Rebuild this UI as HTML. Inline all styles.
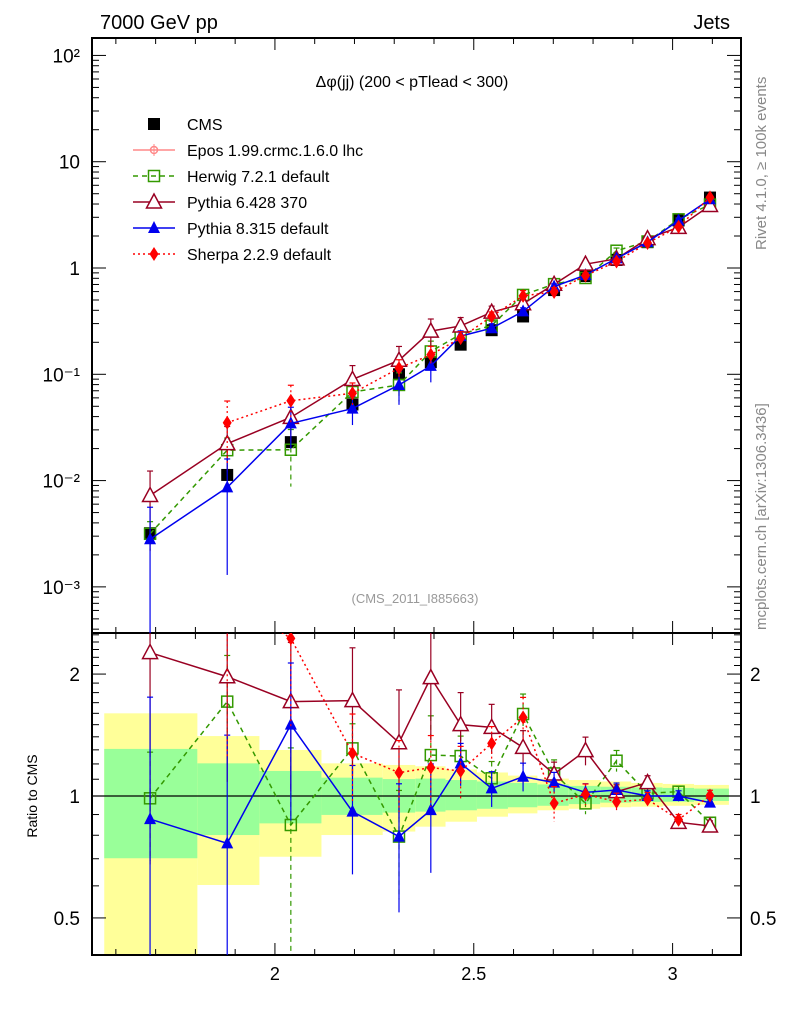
<!DOCTYPE html>
<html><head><meta charset="utf-8"><style>
html,body{margin:0;padding:0;background:#fff;overflow:hidden;width:786px;height:1024px;}
svg{font-family:"Liberation Sans",sans-serif;display:block;}
</style></head><body>
<svg id="c" width="786" height="1024" viewBox="0 0 786 1024" xmlns="http://www.w3.org/2000/svg">
<text x="100" y="29" font-size="20">7000 GeV pp</text>
<text x="730" y="29" font-size="20" text-anchor="end">Jets</text>
<text x="412" y="87" font-size="16" text-anchor="middle">Δφ(jj) (200 &lt; pTlead &lt;  300)</text>
<text x="415" y="603" font-size="13" fill="#999" text-anchor="middle">(CMS_2011_I885663)</text>
<text transform="translate(766,250) rotate(-90)" font-size="15" fill="#888">Rivet 4.1.0, ≥ 100k events</text>
<text transform="translate(766,630) rotate(-90)" font-size="15" fill="#888">mcplots.cern.ch [arXiv:1306.3436]</text>
<text transform="translate(37,796) rotate(-90)" font-size="14" text-anchor="middle">Ratio to CMS</text>
<g id="g"></g>
</svg>
<script>
// ---- data ----
const xCenters=[1.686,1.88,2.04,2.195,2.312,2.392,2.467,2.545,2.624,2.702,2.781,2.859,2.937,3.015,3.094];
const binEdges=[1.5708,1.805,1.961,2.117,2.271,2.353,2.429,2.508,2.586,2.66,2.739,2.818,2.896,2.975,3.054,3.1416];
const cmsValues=[0.0032,0.0113,0.023,0.052,0.1,0.13,0.19,0.26,0.35,0.62,0.84,1.19,1.75,2.8,4.6];
const bandYellowHi=[1.60,1.406,1.299,1.204,1.193,1.184,1.163,1.143,1.123,1.104,1.095,1.086,1.077,1.071,1.065];
const bandYellowLo=[0.3,0.603,0.708,0.801,0.817,0.840,0.864,0.889,0.906,0.922,0.930,0.938,0.941,0.946,0.951];
const bandGreenHi=[1.307,1.204,1.153,1.110,1.101,1.104,1.095,1.086,1.077,1.068,1.059,1.054,1.050,1.047,1.043];
const bandGreenLo=[0.702,0.801,0.856,0.898,0.910,0.915,0.922,0.930,0.938,0.946,0.955,0.963,0.967,0.968,0.972];
const herwigRatio=[0.987,1.71,0.848,1.311,0.794,1.262,1.255,1.106,1.594,1.137,0.959,1.222,1.015,1.025,0.859];
const herwigErr=[0.3,0.3,0.55,0.15,0.3,0.25,0.12,0.1,0.12,0.08,0.06,0.06,0.04,0.03,0.03];
const pythia6Ratio=[2.26,1.97,1.71,1.72,1.354,1.96,1.50,1.477,1.318,1.133,1.294,1.025,1.079,0.861,0.843];
const pythia6Err=[0.7,0.45,0.4,0.35,0.35,0.3,0.2,0.14,0.1,0.07,0.08,0.04,0.04,0.03,0.03];
const pythia8Ratio=[0.877,0.764,1.50,0.915,0.794,0.923,1.204,1.044,1.116,1.079,1.021,1.035,1.0,1.0,0.963];
const pythia8Err=[1.0,0.85,0.42,0.3,0.35,0.3,0.12,0.1,0.08,0.06,0.05,0.04,0.03,0.03,0.02];
const sherpaRatio=[null,3.1,2.45,1.275,1.142,1.175,1.153,1.349,1.564,0.959,1.01,0.968,0.981,0.874,1.003];
const sherpaErr=[0,0.6,0.4,0.25,0.2,0.2,0.15,0.1,0.12,0.1,0.06,0.05,0.04,0.03,0.03];
const mainTickLabels=["10\u207B\u00B3","10\u207B\u00B2","10\u207B\u00B9","1","10","10\u00B2"];
const xTickLabels=["2","2.5","3"];
const ratioTickVals=[0.5,1,2];

// ---- axes ----
const L=92,R=741,MT=38,MB=633,RB=955;
const X=v=>L+(v-1.54)/(3.172-1.54)*(R-L);
const lmin=-3.434,lmax=2.164;
const YM=v=>MB-(Math.log10(v)-lmin)/(lmax-lmin)*(MB-MT);
const rmin=Math.log10(0.405),rmax=Math.log10(2.526);
const YR=v=>RB-(Math.log10(v)-rmin)/(rmax-rmin)*(RB-MB);
const NS="http://www.w3.org/2000/svg";
const g=document.getElementById('g');
function mk(t,a,p){const e=document.createElementNS(NS,t);for(const k in a)e.setAttribute(k,a[k]);(p||g).appendChild(e);return e;}

// bands
for(let i=0;i<xCenters.length;i++){
  const x0=X(binEdges[i]),x1=X(binEdges[i+1]);
  const y1=Math.max(YR(bandYellowHi[i]),MB),y0=Math.min(YR(bandYellowLo[i]),RB);
  const r=mk('rect',{x:x0,y:y1,width:x1-x0,height:y0-y1,fill:'#ffff99'});
  
  
  const g1=YR(bandGreenHi[i]),g0=YR(bandGreenLo[i]);
  const r2=mk('rect',{x:x0,y:g1,width:x1-x0,height:g0-g1,fill:'#99ff99'});
  
  
}
const one=mk('line',{x1:L,x2:R,y1:YR(1),y2:YR(1),stroke:'#000','stroke-width':1.3});



// frames
for(const [t,b,n] of [[MT,MB,'main-frame'],[MB,RB,'ratio-frame']]){
  const f=mk('rect',{x:L,y:t,width:R-L,height:b-t,fill:'none',stroke:'#000','stroke-width':2});
  
  
}
// x ticks
for(let k=16;k<=31;k++){
  const v=k/10,x=X(v);if(x<L||x>R)continue;
  const maj=(k%5==0);const len=maj?12:6;
  for(const [yb,dir] of [[MB,-1],[MT,1],[RB,-1],[MB,1]]){
    mk('line',{x1:x,x2:x,y1:yb,y2:yb+dir*len,stroke:'#000','stroke-width':1});
  }
}
xTickLabels.forEach(s=>{
  const t=mk('text',{x:X(parseFloat(s)),y:980,'font-size':18,'text-anchor':'middle'});
  t.textContent=s;
  
  
});
// main y ticks
for(let d=-4;d<=2;d++){
  for(let m=1;m<10;m++){
    const v=m*Math.pow(10,d),y=YM(v);if(y<MT||y>MB)continue;
    const len=m==1?14:7;
    mk('line',{x1:L,x2:L+len,y1:y,y2:y,stroke:'#000','stroke-width':1});
    mk('line',{x1:R,x2:R-len,y1:y,y2:y,stroke:'#000','stroke-width':1});
  }
}
mainTickLabels.forEach((s,i)=>{
  const t=mk('text',{x:80,y:YM(Math.pow(10,i-3))+7,'font-size':19,'text-anchor':'end'});
  t.textContent=s;
  
  
});
// ratio ticks
for(let v=0.4;v<=2.6;v+=0.1){
  const vv=Math.round(v*10)/10;const y=YR(vv);if(y<MB||y>RB)continue;
  const maj=ratioTickVals.includes(vv);const len=maj?14:7;
  mk('line',{x1:L,x2:L+len,y1:y,y2:y,stroke:'#000','stroke-width':1});
  mk('line',{x1:R,x2:R-len,y1:y,y2:y,stroke:'#000','stroke-width':1});
}
ratioTickVals.forEach(v=>{
  for(const [x,a] of [[80,'end'],[750,'start']]){
    const t=mk('text',{x:x,y:YR(v)+7,'font-size':19,'text-anchor':a});
    t.textContent=String(v);
    
    
  }
});

// markers
function marker(type,x,y,col,par){
  if(type=='sq') return mk('rect',{x:x-6,y:y-6,width:12,height:12,fill:'#000'},par);
  if(type=='osq') return mk('rect',{x:x-5.5,y:y-5.5,width:11,height:11,fill:'none',stroke:col,'stroke-width':1.5},par);
  if(type=='otri') return mk('polygon',{points:`${x},${y-8} ${x-7.5},${y+6} ${x+7.5},${y+6}`,fill:'#fff',stroke:col,'stroke-width':1.5},par);
  if(type=='tri') return mk('polygon',{points:`${x},${y-7} ${x-6},${y+5} ${x+6},${y+5}`,fill:col},par);
  if(type=='dia') return mk('polygon',{points:`${x},${y-7} ${x-4.5},${y} ${x},${y+7} ${x+4.5},${y}`,fill:col},par);
}
const series=[
 {n:'herwig',r:herwigRatio,e:herwigErr,c:'#339900',m:'osq',d:'5,4'},
 {n:'pythia6',r:pythia6Ratio,e:pythia6Err,c:'#990022',m:'otri',d:''},
 {n:'pythia8',r:pythia8Ratio,e:pythia8Err,c:'#0000ee',m:'tri',d:''},
 {n:'sherpa',r:sherpaRatio,e:sherpaErr,c:'#ff0000',m:'dia',d:'2,3'}
];
const clip=mk('clipPath',{id:'cm'});mk('rect',{x:L,y:MT,width:R-L,height:MB-MT},clip);
const clip2=mk('clipPath',{id:'cr'});mk('rect',{x:L,y:MB,width:R-L,height:RB-MB},clip2);
const gm=mk('g',{'clip-path':'url(#cm)'});


const gr=mk('g',{'clip-path':'url(#cr)'});


series.forEach(s=>{
  for(const [par,Y,main,bot] of [[gm,YM,true,MB],[gr,YR,false,RB]]){
    const pts=[];
    const sg=mk('g',{},par);
    
    
    s.r.forEach((r,i)=>{
      if(r==null)return;
      const v=main?r*cmsValues[i]:r;
      const x=X(xCenters[i]),y=Y(v);
      const lo=Math.max(v*(1-s.e[i]),1e-6),hi=v*(1+s.e[i]);
      mk('line',{x1:x,x2:x,y1:Y(hi),y2:Math.min(Y(lo),bot),stroke:s.c,'stroke-width':1.2,'stroke-dasharray':s.d},sg);
      mk('line',{x1:x-3,x2:x+3,y1:Y(hi),y2:Y(hi),stroke:s.c,'stroke-width':1.2},sg);
      pts.push(x+','+y);
    });
    const pl=mk('polyline',{points:pts.join(' '),fill:'none',stroke:s.c,'stroke-width':1.5,'stroke-dasharray':s.d},sg);
    
    
    s.r.forEach((r,i)=>{
      if(r==null)return;
      const v=main?r*cmsValues[i]:r;
      const mm=marker(s.m,X(xCenters[i]),Y(v),s.c,sg);
      
      
    });
  }
});
cmsValues.forEach((v,i)=>{
  const m=marker('sq',X(xCenters[i]),YM(v),'#000');
  gm.insertBefore(m,gm.firstChild);
  
  
});

// legend
const leg=[['CMS','sq','#000',''],['Epos 1.99.crmc.1.6.0 lhc','cross','#ff8888',''],['Herwig 7.2.1 default','osq','#339900','5,4'],['Pythia 6.428 370','otri','#990022',''],['Pythia 8.315 default','tri','#0000ee',''],['Sherpa 2.2.9 default','dia','#ff0000','2,3']];
leg.forEach((l,i)=>{
  const y=124+i*26;
  const lg=mk('g',{});
  
  
  if(i>0) mk('line',{x1:133,x2:175,y1:y,y2:y,stroke:l[2],'stroke-width':1.5,'stroke-dasharray':l[3]},lg);
  if(l[1]=='cross'){mk('circle',{cx:154,cy:y,r:3.5,fill:'none',stroke:l[2],'stroke-width':1.5},lg);mk('line',{x1:154,x2:154,y1:y-6,y2:y+6,stroke:l[2]},lg);}
  else marker(l[1],154,y,l[2],lg);
  const t=mk('text',{x:187,y:y+6,'font-size':16},lg);
  t.textContent=l[0];
});
</script>
</body></html>
